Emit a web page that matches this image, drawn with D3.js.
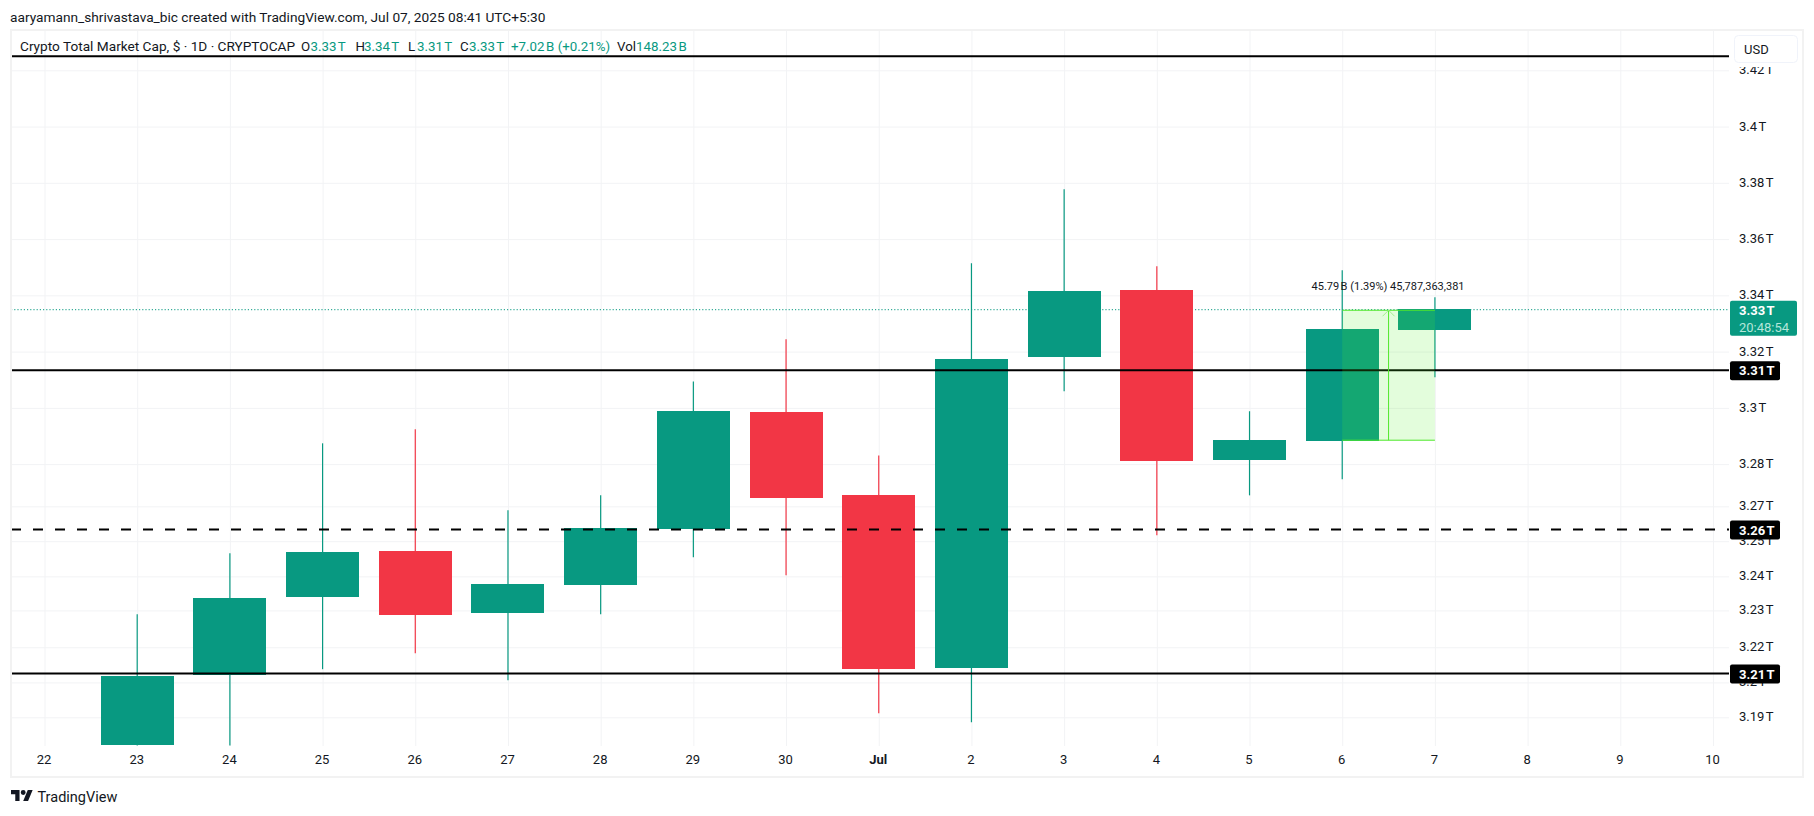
<!DOCTYPE html>
<html>
<head>
<meta charset="utf-8">
<script src="https://cdn.jsdelivr.net/npm/d3@7"></script>
<style>
html,body{margin:0;padding:0;background:#fff;overflow:hidden}
svg{display:block}
text{font-family:Roboto,"Liberation Sans",sans-serif;fill:#131722}
</style>
</head>
<body>
<svg id="chart" width="1814" height="816"></svg>
<script>
// ---- data ----
const xLabels = ["22","23","24","25","26","27","28","29","30","Jul","2","3","4","5","6","7","8","9","10"];
const candleDays = ["23","24","25","26","27","28","29","30","Jul","2","3","4","5","6","7"];
const opens  = [3.1800,3.2049,3.2327,3.2490,3.2270,3.2369,3.2568,3.2984,3.2689,3.2074,3.3180,3.3418,3.2814,3.2881,3.3276];
const highs  = [3.2266,3.2483,3.2874,3.2924,3.2636,3.2689,3.3094,3.3244,3.2831,3.3514,3.3777,3.3503,3.2988,3.3489,3.3393];
const lows   = [3.1800,3.1800,3.2071,3.2128,3.2032,3.2266,3.2469,3.2405,3.1914,3.1882,3.3059,3.2547,3.2689,3.2746,3.3109];
const closes = [3.2046,3.2323,3.2487,3.2263,3.2373,3.2572,3.2988,3.2679,3.2071,3.3173,3.3414,3.2810,3.2885,3.3279,3.3350];
const yTickValues = [3.42,3.40,3.38,3.36,3.34,3.32,3.30,3.28,3.2650,3.2526,3.2401,3.2280,3.2149,3.2024,3.19];
const yTickLabels = ["3.42\u202fT","3.4\u202fT","3.38\u202fT","3.36\u202fT","3.34\u202fT","3.32\u202fT","3.3\u202fT","3.28\u202fT","3.27\u202fT","3.25\u202fT","3.24\u202fT","3.23\u202fT","3.22\u202fT","3.2\u202fT","3.19\u202fT"];
const solidLevels = [3.4250,3.3134,3.2056];
const dashedLevels = [3.2568];
const tagLevels = [3.3134,3.2568,3.2056];
const tagLabels = ["3.31\u202fT","3.26\u202fT","3.21\u202fT"];
const lastPrice = 3.3349;
const lastPriceLabel = "3.33\u202fT";
const countdown = "20:48:54";
const measureFromDay = "6", measureToDay = "7";
const measureLow = 3.2885, measureHigh = 3.3347;
const measureLabel = "45.79\u202fB (1.39%) 45,787,363,381";
const titleText = "aaryamann_shrivastava_bic created with TradingView.com, Jul 07, 2025 08:41 UTC+5:30";
const legendTitle = "Crypto Total Market Cap, $ · 1D · CRYPTOCAP";
const legendKeys = ["O","H","L","C"];
const legendVals = ["3.33\u202fT","3.34\u202fT","3.31\u202fT","3.33\u202fT"];
const legendChange = "+7.02\u202fB (+0.21%)";
const legendVolKey = "Vol", legendVol = "148.23\u202fB";
const currency = "USD";
const brand = "TradingView";

// ---- style / layout ----
const UP="#089981", DOWN="#f23645", GRID="#f2f3f5", FRAME="#f2f2f2";
const L=11, R=1729, T=31, B=746, BODY=73;
const svg=d3.select("#chart");
const x=d3.scalePoint().domain(xLabels).range([44.5,1713]);
const y=d3.scaleLinear().domain([3.19,3.42]).range([717.3,70.3]);

svg.append("rect").attr("width",1814).attr("height",816).attr("fill","#fff");
svg.append("defs").append("clipPath").attr("id","plot").append("rect")
  .attr("x",L).attr("y",T).attr("width",R-L).attr("height",B-T);

svg.append("text").attr("x",10).attr("y",22).attr("font-size",13.7).text(titleText);

// axes + grid
const yAxis=d3.axisRight(y).tickValues(yTickValues).tickSize(-(R-L)).tickPadding(10)
  .tickFormat((d,i)=>yTickLabels[i]);
const gy=svg.append("g").attr("transform",`translate(${R},0)`).call(yAxis);
const xAxis=d3.axisBottom(x).tickSize(-(B-T)).tickPadding(9);
const gx=svg.append("g").attr("transform",`translate(0,${B})`).call(xAxis);
[gy,gx].forEach(g=>{
  g.select(".domain").remove();
  g.selectAll("line").attr("stroke",GRID);
  g.selectAll("text").attr("font-size",13).style("fill","#131722").attr("font-family","Roboto");
});
gy.selectAll("text").attr("dy","0.27em");
gx.selectAll("text").attr("dx",-1);
gx.selectAll("text").filter(d=>d==="Jul").attr("font-weight",700);

// candles
const plot=svg.append("g").attr("clip-path","url(#plot)");
const candles=candleDays.map((d,i)=>({d,o:opens[i],h:highs[i],l:lows[i],c:closes[i]}));
const col=d=>d.c>=d.o?UP:DOWN;
plot.append("line").attr("x1",L).attr("x2",R).attr("y1",y(lastPrice)).attr("y2",y(lastPrice))
  .attr("stroke",UP).attr("stroke-width",1).attr("stroke-dasharray","1.2,2");
plot.selectAll("line.wick").data(candles).join("line").attr("class","wick")
  .attr("x1",d=>x(d.d)).attr("x2",d=>x(d.d)).attr("y1",d=>y(d.h)).attr("y2",d=>y(d.l))
  .attr("stroke",col).attr("stroke-width",1.2);
plot.selectAll("rect.body").data(candles).join("rect").attr("class","body")
  .attr("x",d=>x(d.d)-BODY/2).attr("width",BODY)
  .attr("y",d=>y(Math.max(d.o,d.c))).attr("height",d=>Math.abs(y(d.o)-y(d.c)))
  .attr("fill",col).attr("shape-rendering","crispEdges");

// horizontal levels
plot.selectAll("line.solid").data(solidLevels).join("line").attr("class","solid")
  .attr("x1",L).attr("x2",R).attr("y1",d=>y(d)).attr("y2",d=>y(d))
  .attr("stroke","#000").attr("stroke-width",2);
plot.selectAll("line.dash").data(dashedLevels).join("line").attr("class","dash")
  .attr("x1",L).attr("x2",R).attr("y1",d=>y(d)).attr("y2",d=>y(d))
  .attr("stroke","#000").attr("stroke-width",2).attr("stroke-dasharray","10,12");

// measure tool
const mx0=x(measureFromDay), mx1=x(measureToDay), mxc=(mx0+mx1)/2;
const MC="#4fe82a";
plot.append("rect").attr("x",mx0).attr("width",mx1-mx0)
  .attr("y",y(measureHigh)).attr("height",y(measureLow)-y(measureHigh))
  .attr("fill","rgb(86,243,45)").attr("fill-opacity",0.166);
[measureHigh,measureLow].forEach(v=>plot.append("line").attr("x1",mx0).attr("x2",mx1)
  .attr("y1",y(v)).attr("y2",y(v)).attr("stroke",MC).attr("stroke-width",1));
plot.append("line").attr("x1",mxc).attr("x2",mxc).attr("y1",y(measureLow)).attr("y2",y(measureHigh))
  .attr("stroke",MC).attr("stroke-width",1);
plot.append("path").attr("d",`M${mxc-6},${y(measureHigh)+6}L${mxc},${y(measureHigh)}L${mxc+6},${y(measureHigh)+6}`)
  .attr("fill","none").attr("stroke","#a3ef8e").attr("stroke-width",1);
svg.append("text").attr("x",mxc-0.5).attr("y",y(measureHigh)-20).attr("text-anchor","middle")
  .attr("font-size",11).text(measureLabel);

// frame
svg.append("rect").attr("x",11).attr("y",30).attr("width",1792).attr("height",747)
  .attr("fill","none").attr("stroke",FRAME).attr("stroke-width",2);

// legend
const lg=svg.append("g");
const legY=50.5;
lg.append("text").attr("x",20).attr("y",legY).attr("font-size",13.65).text(legendTitle);
const keyX=[301,355.5,408,460], valX=[310.5,364,417,469];
legendKeys.forEach((k,i)=>{
  lg.append("text").attr("x",keyX[i]).attr("y",legY).attr("font-size",13.3).text(k);
  lg.append("text").attr("x",valX[i]).attr("y",legY).attr("font-size",13.3).style("fill",UP).text(legendVals[i]);
});
lg.append("text").attr("x",511).attr("y",legY).attr("font-size",13.3).style("fill",UP).text(legendChange);
lg.append("text").attr("x",617).attr("y",legY).attr("font-size",13.3).text(legendVolKey);
lg.append("text").attr("x",636).attr("y",legY).attr("font-size",13.3).style("fill",UP).text(legendVol);

// currency button (masks the top of the axis as the reference does)
svg.append("rect").attr("x",1731).attr("y",33).attr("width",70).attr("height",34).attr("fill","#fff");
svg.append("rect").attr("x",1734.5).attr("y",35.5).attr("width",63).attr("height",27).attr("rx",4)
  .attr("fill","#fff").attr("stroke","#f0f3fa");
svg.append("text").attr("x",1744).attr("y",54).attr("font-size",13).text(currency);

// price tags
const tg=svg.selectAll("g.tag").data(tagLevels).join("g").attr("class","tag");
tg.append("rect").attr("x",1730).attr("width",50).attr("y",d=>y(d)-9).attr("height",19).attr("rx",2).attr("fill","#000");
tg.append("text").attr("x",1739).attr("y",d=>y(d)+5.3).attr("font-size",13).attr("font-weight",700)
  .style("fill","#fff").text((d,i)=>tagLabels[i]);
const yl=y(lastPrice);
svg.append("rect").attr("x",1730).attr("y",yl-9).attr("width",67).attr("height",35).attr("rx",2).attr("fill",UP);
svg.append("text").attr("x",1739).attr("y",yl+5.3).attr("font-size",13).attr("font-weight",700).style("fill","#fff").text(lastPriceLabel);
svg.append("text").attr("x",1739).attr("y",yl+22).attr("font-size",13).style("fill","#b5e6da").text(countdown);

// brand
svg.append("g").attr("transform","translate(11,787.6) scale(0.61)").append("path")
  .attr("fill","#131722")
  .attr("d","M14 22H7V11H0V4h14v18zM28 22h-8l7.5-18h8L28 22zM24 8a4 4 0 1 1-8 0 4 4 0 0 1 8 0z");
svg.append("text").attr("x",37.5).attr("y",801.5).attr("font-size",14.5).text(brand);
</script>
</body>
</html>
